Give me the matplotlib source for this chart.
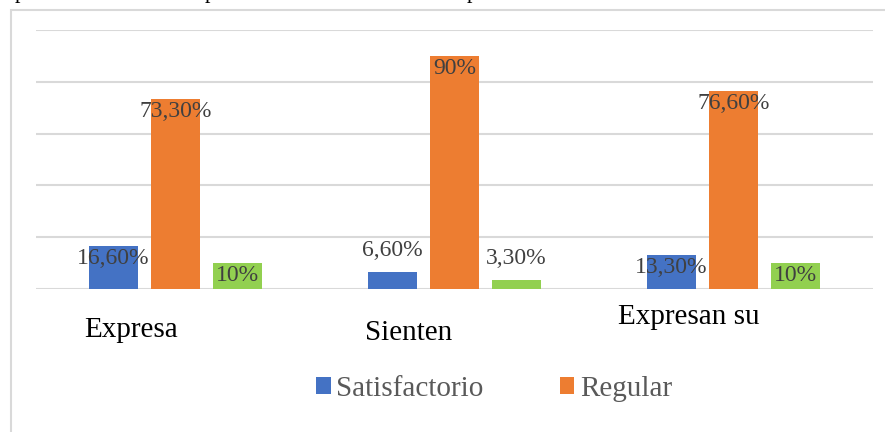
import matplotlib.pyplot as plt
import matplotlib.patches as mpatches
import numpy as np

categories = ["Expresa", "Sienten", "Expresan su"]
series_names = ["Satisfactorio", "Regular", ""]
satisfactorio = [16.6, 6.6, 13.3]
regular = [73.3, 90.0, 76.6]
tercero = [10.0, 3.3, 10.0]
value_labels = [
    ["16,60%", "6,60%", "13,30%"],
    ["73,30%", "90%", "76,60%"],
    ["10%", "3,30%", "10%"],
]
colors = ["#4472C4", "#ED7D31", "#92D050"]

plt.rcParams["font.family"] = ["Liberation Serif", "DejaVu Serif"]
text_gray = "#404040"
grid_gray = "#D9D9D9"

W, H = 885, 432
fig = plt.figure(figsize=(W / 100, H / 100), dpi=100)

# outer chart border (cut off at right and bottom)
fig.patches.append(mpatches.Rectangle((11 / W, -0.1), 1.2, 1 - 10 / H + 0.1,
                                      transform=fig.transFigure, fill=False,
                                      edgecolor=grid_gray, linewidth=1.5))

# descenders of the document line above the chart
for xp in [20, 210, 472]:
    fig.text(xp / W, 1 + 2 / H, "p", ha="center", va="baseline",
             fontsize=16, color="black")

ax = fig.add_axes([36 / W, 1 - 289 / H, (873 - 36) / W, (289 - 30) / H])
ax.set_xlim(-0.5, 2.5)
ax.set_ylim(0, 100)
ax.set_yticks(np.arange(0, 101, 20))
ax.yaxis.grid(True, color=grid_gray, linewidth=1.5)
ax.set_axisbelow(True)
ax.tick_params(left=False, bottom=False, labelleft=False, labelbottom=False)
for s in ax.spines.values():
    s.set_visible(False)

x = np.arange(len(categories))
width = 0.175
step = 0.222
all_series = [satisfactorio, regular, tercero]
for i, vals in enumerate(all_series):
    xs = x + (i - 1) * step
    ax.bar(xs, vals, width, color=colors[i], label=series_names[i] or None, zorder=2)
    for j, v in enumerate(vals):
        if v < 8:
            ax.annotate(value_labels[i][j], (xs[j], v), xytext=(0, 8),
                        textcoords="offset points", ha="center", va="bottom",
                        fontsize=17, color=text_gray, zorder=3)
        else:
            ax.annotate(value_labels[i][j], (xs[j], v), xytext=(0, -9),
                        textcoords="offset points", ha="center", va="center",
                        fontsize=17, color=text_gray, zorder=3)

# category labels (positions as laid out in the original)
label_shift = [-0.16, -0.165, -0.16]
label_y = [-16, -17, -11]
for j, cat in enumerate(categories):
    ax.text(x[j] + label_shift[j], label_y[j], cat, ha="center", va="center",
            fontsize=21, color="black", clip_on=False)

handles, labels = ax.get_legend_handles_labels()
leg = fig.legend(handles, labels, loc="center", bbox_to_anchor=(494 / W, 1 - 389 / H),
                 ncol=2, frameon=False, fontsize=21, handlelength=0.5,
                 handleheight=0.5, handletextpad=0.2, columnspacing=2.6)
for t in leg.get_texts():
    t.set_color("#595959")

fig.savefig("out.png", dpi=100)
